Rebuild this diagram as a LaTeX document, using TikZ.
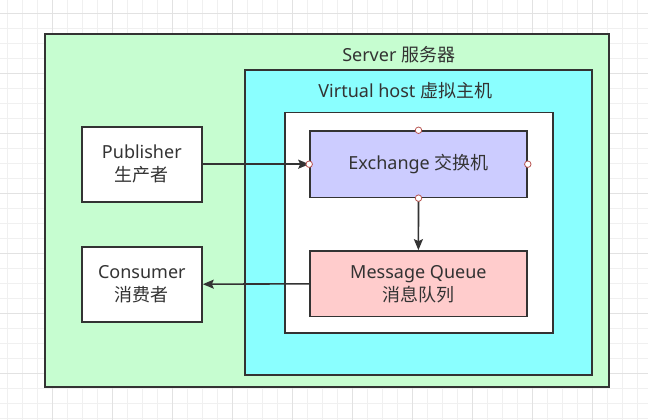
\documentclass[tikz,border=0pt]{standalone}
\usepackage{fontspec}
\setmainfont{Noto Sans}
\newfontfamily\cjk{Noto Sans CJK SC}
\usetikzlibrary{arrows.meta}
\definecolor{ink}{HTML}{333333}
\definecolor{gridminor}{HTML}{F0F0F0}
\definecolor{gridmajor}{HTML}{E2E2E2}
\definecolor{servergreen}{HTML}{C6FDD0}
\definecolor{vhcyan}{HTML}{8AFFFF}
\definecolor{exlav}{HTML}{CCCCFF}
\definecolor{mqpink}{HTML}{FFCCCC}
\definecolor{ptred}{HTML}{B85450}
\tikzset{
  every node/.style={text=ink, font=\fontsize{18}{23}\selectfont},
  frame/.style={draw=ink, line width=1.6pt},
  box/.style={frame, rectangle, align=center, inner sep=0pt},
  conn/.style={draw=ink, line width=1.6pt, -{Stealth[length=11pt,width=9pt,inset=2pt]}},
  cpt/.style={circle, draw=ptred, fill=white, line width=0.8pt, minimum size=6.5pt, inner sep=0pt},
}
\begin{document}
\begin{tikzpicture}[x=1pt,y=-1pt]
\useasboundingbox (0,0) rectangle (648,420);
\fill[white] (0,0) rectangle (648,420);
% grid
\foreach \i in {0,...,42} {
  \pgfmathsetmacro\gx{7.4+15*\i}
  \draw[gridminor, line width=0.8pt] (\gx,0) -- (\gx,420);
}
\foreach \i in {0,...,27} {
  \pgfmathsetmacro\gy{13.3+15*\i}
  \draw[gridminor, line width=0.8pt] (0,\gy) -- (648,\gy);
}
\foreach \i in {0,...,10} {
  \pgfmathsetmacro\gx{52.4+60*\i}
  \draw[gridmajor, line width=0.8pt] (\gx,0) -- (\gx,420);
}
\foreach \i in {0,...,6} {
  \pgfmathsetmacro\gy{13.3+60*\i}
  \draw[gridmajor, line width=0.8pt] (0,\gy) -- (648,\gy);
}
% containers
\draw[frame, fill=servergreen] (45,34.3) rectangle (609,387);
\node (serverlbl) at (398.7,55) {Server {\cjk 服务器}};
\draw[frame, fill=vhcyan] (244.7,70) rectangle (592,375);
\node (vhlbl) at (405.3,90.7) {Virtual host {\cjk 虚拟主机}};
\draw[frame, fill=white] (285,112.3) rectangle (553,332.7);
% nodes
\node[box, fill=white, minimum width=120.3pt, minimum height=75pt] (pub) at (141.85,164.2) {Publisher\\{\cjk 生产者}};
\node[box, fill=white, minimum width=120.3pt, minimum height=75pt] (con) at (141.85,284.2) {Consumer\\{\cjk 消费者}};
\node[box, fill=exlav, minimum width=217pt, minimum height=66.3pt] (ex) at (418.5,164.2) {Exchange {\cjk 交换机}};
\node[box, fill=mqpink, minimum width=217.3pt, minimum height=65.7pt] (mq) at (418.4,283.8) {Message Queue\\{\cjk 消息队列}};
% connectors
\draw[conn] (pub.east) -- (ex.west);
\draw[conn] (ex.south) -- (mq.north);
\draw[conn] (mq.west) -- (con.east);
% connection points
\node[cpt] (ptn) at (ex.north) {};
\node[cpt] (ptw) at (ex.west) {};
\node[cpt] (pte) at (ex.east) {};
\node[cpt] (pts) at (ex.south) {};
\end{tikzpicture}
\end{document}
